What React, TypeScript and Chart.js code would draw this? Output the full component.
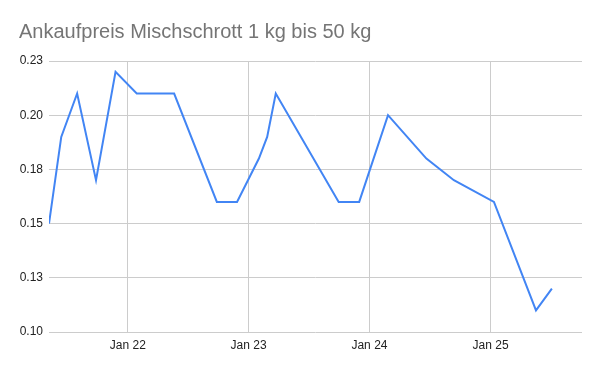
import React, { useEffect, useRef } from "react";
import { Chart, registerables } from "chart.js";

Chart.register(...registerables);

const titleText = "Ankaufpreis Mischschrott 1 kg bis 50 kg";
const dates = [
  "2021-05-08", "2021-06-14", "2021-08-01", "2021-09-27", "2021-11-25",
  "2022-01-28", "2022-05-21", "2022-09-27", "2022-11-27", "2023-02-01",
  "2023-02-26", "2023-03-24", "2023-09-30", "2023-12-01", "2024-02-26",
  "2024-06-21", "2024-09-12", "2025-01-11", "2025-05-18", "2025-07-05",
];
const prices = [
  0.15, 0.19, 0.21, 0.17, 0.22,
  0.21, 0.21, 0.16, 0.16, 0.18,
  0.19, 0.21, 0.16, 0.16, 0.20,
  0.18, 0.17, 0.16, 0.11, 0.12,
];
const xTickDates = ["2022-01-01", "2023-01-01", "2024-01-01", "2025-01-01"];
const xTickLabels = ["Jan 22", "Jan 23", "Jan 24", "Jan 25"];
const yTickValues = [0.1, 0.125, 0.15, 0.175, 0.2, 0.225];
const yTickLabels = ["0.10", "0.13", "0.15", "0.18", "0.20", "0.23"];
const xMinDate = "2021-05-08";
const xMaxDate = "2025-10-04";

const ts = (s: string) => new Date(s + "T00:00:00Z").getTime();

const titlePlugin = {
  id: "customTitle",
  afterDraw(chart: any) {
    const ctx = chart.ctx;
    ctx.save();
    ctx.font = '20px "Liberation Sans", Arial, sans-serif';
    ctx.fillStyle = "#757575";
    ctx.textAlign = "left";
    ctx.textBaseline = "alphabetic";
    ctx.fillText(titleText, 19, 37.5);
    ctx.restore();
  },
};

export default function App() {
  const ref = useRef<HTMLCanvasElement>(null);
  useEffect(() => {
    if (!ref.current) return;
    const xTicks = xTickDates.map(ts);
    const chart = new Chart(ref.current, {
      type: "line",
      data: {
        datasets: [
          {
            data: dates.map((d, i) => ({ x: ts(d), y: prices[i] })),
            borderColor: "#4285F4",
            backgroundColor: "#4285F4",
            borderWidth: 2,
            pointRadius: 0,
            tension: 0,
          },
        ],
      },
      options: {
        responsive: false,
        animation: false,
        layout: { padding: { top: 61, left: 0, right: 18, bottom: 0 } },
        plugins: {
          legend: { display: false },
          title: { display: false },
          tooltip: { enabled: false },
        },
        scales: {
          x: {
            type: "linear",
            min: ts(xMinDate),
            max: ts(xMaxDate),
            afterBuildTicks(scale: any) {
              scale.ticks = xTicks.map((v) => ({ value: v }));
            },
            afterFit(scale: any) {
              scale.height = 39;
            },
            border: { display: false },
            grid: { color: "#cccccc", drawTicks: false, lineWidth: 1 },
            ticks: {
              autoSkip: false,
              maxRotation: 0,
              padding: 6,
              color: "#222222",
              font: { family: '"Liberation Sans", Arial, sans-serif', size: 12 },
              callback(value: any) {
                const i = xTicks.indexOf(Number(value));
                return i >= 0 ? xTickLabels[i] : "";
              },
            },
          },
          y: {
            min: 0.1,
            max: 0.225,
            afterBuildTicks(scale: any) {
              scale.ticks = yTickValues.map((v) => ({ value: v }));
            },
            afterFit(scale: any) {
              scale.width = 49;
            },
            border: { display: false },
            grid: { color: "#cccccc", drawTicks: false, lineWidth: 1 },
            ticks: {
              padding: 6,
              color: "#222222",
              font: { family: '"Liberation Sans", Arial, sans-serif', size: 12 },
              callback(_value: any, index: number) {
                return yTickLabels[index];
              },
            },
          },
        },
      },
      plugins: [titlePlugin],
    });
    return () => chart.destroy();
  }, []);
  return (
    <div style={{ position: "fixed", left: 0, top: 0, width: 600, height: 371, background: "#fff" }}>
      <canvas ref={ref} width={600} height={371} style={{ width: 600, height: 371 }} />
    </div>
  );
}
